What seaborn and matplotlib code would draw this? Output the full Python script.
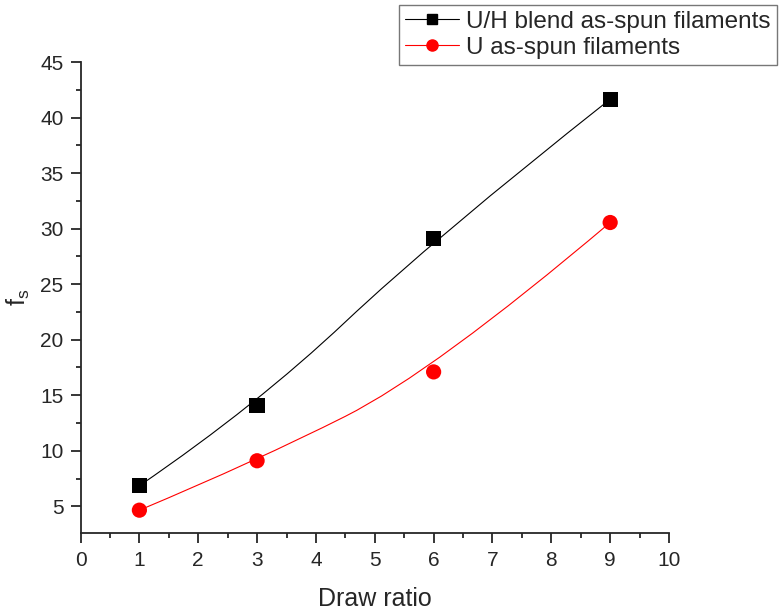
import numpy as np
import pandas as pd
import seaborn as sns
import matplotlib.pyplot as plt
from matplotlib.path import Path
from matplotlib.patches import PathPatch
from matplotlib.lines import Line2D
from matplotlib.ticker import MultipleLocator

# values
draw_ratio = [1, 3, 6, 9]
fs_blend = [6.85, 14.1, 29.1, 41.65]
fs_u = [4.65, 9.1, 17.1, 30.55]
series_names = ["U/H blend as-spun filaments", "U as-spun filaments"]

sns.set_theme(style="ticks")
plt.rcParams["font.family"] = ["Liberation Sans", "DejaVu Sans"]
plt.rcParams["mathtext.fontset"] = "custom"
plt.rcParams["mathtext.rm"] = "Liberation Sans"
plt.rcParams["mathtext.it"] = "Liberation Sans"

fig = plt.figure(figsize=(7.82, 6.14), dpi=100)
ax = fig.add_axes([0.103, 0.132, 0.7525, 0.767])

df = pd.DataFrame({
    "Draw ratio": draw_ratio * 2,
    "fs": fs_blend + fs_u,
    "series": [series_names[0]] * 4 + [series_names[1]] * 4,
})


def smooth_curve(xs, ys, color):
    # quadratic B-spline through the points as control polygon (Origin style),
    # drawn by matplotlib as a path of quadratic Bezier pieces
    pts = list(zip(xs, ys))
    verts = [pts[0], pts[1]]
    codes = [Path.MOVETO, Path.CURVE3]
    for i in range(1, len(pts) - 2):
        mid = ((pts[i][0] + pts[i + 1][0]) / 2, (pts[i][1] + pts[i + 1][1]) / 2)
        verts += [mid, pts[i + 1]]
        codes += [Path.CURVE3, Path.CURVE3]
    verts.append(pts[-1])
    codes.append(Path.CURVE3)
    ax.add_patch(PathPatch(Path(verts, codes), facecolor="none",
                           edgecolor=color, lw=0.8, zorder=2))


smooth_curve(draw_ratio, fs_blend, "black")
smooth_curve(draw_ratio, fs_u, "red")

sns.scatterplot(data=df, x="Draw ratio", y="fs", hue="series", style="series",
                palette=["black", "red"], markers=["s", "o"], s=120,
                edgecolor="none", legend=False, ax=ax, zorder=3)

ax.set_xlim(0, 10)
ax.set_ylim(2.6, 45)
ax.xaxis.set_major_locator(MultipleLocator(1))
ax.xaxis.set_minor_locator(MultipleLocator(0.5))
ax.yaxis.set_minor_locator(MultipleLocator(2.5))
ax.set_yticks([5, 10, 15, 20, 25, 30, 35, 40, 45])
ax.tick_params(which="major", direction="out", length=7.2, width=1.3, labelsize=15)
ax.tick_params(axis="x", which="major", pad=6)
ax.tick_params(axis="y", which="major", pad=5)
ax.tick_params(which="minor", direction="out", length=3.6, width=1.3)
sns.despine(ax=ax)
for sp in ["left", "bottom"]:
    ax.spines[sp].set_linewidth(1.3)

ax.set_xlabel("Draw ratio", fontsize=18, labelpad=12)
ax.set_ylabel("$\\mathregular{f_s}$", fontsize=18, labelpad=6)

handles = [
    Line2D([], [], color="black", lw=0.8, marker="s", markersize=7.5),
    Line2D([], [], color="red", lw=0.8, marker="o", markersize=8),
]
leg = fig.legend(handles, series_names, loc="upper right",
                 bbox_to_anchor=(0.993, 0.992), fontsize=17.5,
                 frameon=True, fancybox=False, edgecolor="#555555",
                 handlelength=2.2, handletextpad=0.3, borderpad=0.25,
                 labelspacing=0.15, borderaxespad=0)
leg.get_frame().set_linewidth(1.0)

fig.savefig("out.png", dpi=100)
